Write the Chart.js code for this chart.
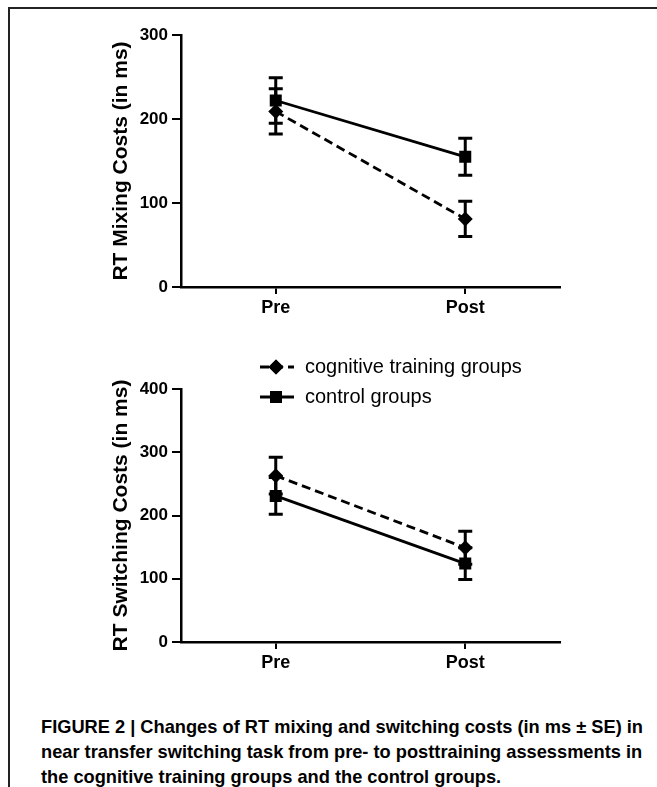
<!DOCTYPE html>
<html>
<head>
<meta charset="utf-8">
<script src="https://cdn.jsdelivr.net/npm/chart.js@4/dist/chart.umd.min.js"></script>
<style>
  html, body { margin: 0; padding: 0; background: #fff; }
  body { width: 657px; height: 787px; position: relative; overflow: hidden; }
  #frameTop { position: absolute; left: 8px; top: 7px; width: 649px; height: 2px; background: #222; }
  #frameLeft { position: absolute; left: 8px; top: 7px; width: 2px; height: 780px; background: #222; }
  canvas { position: absolute; left: 0; }
  #c1 { top: 0; }
  #c2 { top: 330px; }
  .cap { position: absolute; left: 41px; white-space: nowrap; font-family: "Liberation Sans Narrow", "Liberation Sans", Arial, sans-serif; font-weight: bold; font-size: 18.5px; line-height: 20px; color: #000; transform-origin: 0 50%; }
</style>
</head>
<body>
<div id="frameTop"></div>
<div id="frameLeft"></div>
<canvas id="c1" width="657" height="330"></canvas>
<canvas id="c2" width="657" height="355"></canvas>
<div class="cap" id="cap1" style="top:717px">FIGURE 2 | Changes of RT mixing and switching costs (in ms ± SE) in</div>
<div class="cap" id="cap2" style="top:742px">near transfer switching task from pre- to posttraining assessments in</div>
<div class="cap" id="cap3" style="top:767px">the cognitive training groups and the control groups.</div>
<script>
// ---- data ----
const categories = ['Pre', 'Post'];
const seriesNames = ['cognitive training groups', 'control groups'];

const mixingCognitive = [209, 81];
const mixingCognitiveSE = [27, 21];
const mixingControl = [222, 155];
const mixingControlSE = [27, 22];

const switchingCognitive = [263, 149];
const switchingCognitiveSE = [29, 26];
const switchingControl = [231, 124];
const switchingControlSE = [29, 25];

const mixingTicks = [0, 100, 200, 300];
const switchingTicks = [0, 100, 200, 300, 400];

const mixingTitle = 'RT Mixing Costs (in ms)';
const switchingTitle = 'RT Switching Costs (in ms)';

// ---- styling ----
const FONT = '"Liberation Sans", Arial, sans-serif';
const BLACK = '#000';

const errorBarPlugin = {
  id: 'errorBars',
  afterDatasetsDraw(chart) {
    const ctx = chart.ctx;
    const yScale = chart.scales.y;
    ctx.save();
    ctx.strokeStyle = BLACK;
    ctx.lineWidth = 3;
    ctx.lineCap = 'butt';
    chart.data.datasets.forEach((ds, i) => {
      const meta = chart.getDatasetMeta(i);
      meta.data.forEach((pt, j) => {
        const v = ds.data[j], se = ds.se[j];
        const x = pt.x;
        const yTop = yScale.getPixelForValue(v + se);
        const yBot = yScale.getPixelForValue(v - se);
        ctx.beginPath();
        ctx.moveTo(x, yTop); ctx.lineTo(x, yBot);
        ctx.moveTo(x - 7, yTop); ctx.lineTo(x + 7, yTop);
        ctx.moveTo(x - 7, yBot); ctx.lineTo(x + 7, yBot);
        ctx.stroke();
      });
    });
    ctx.restore();
  }
};

const legendPlugin = {
  id: 'customLegend',
  afterDraw(chart) {
    const ctx = chart.ctx;
    const rows = [37, 67];
    ctx.save();
    chart.data.datasets.forEach((ds, i) => {
      const y = rows[i];
      ctx.strokeStyle = BLACK;
      ctx.lineWidth = 2.8;
      ctx.setLineDash(ds.borderDash || []);
      ctx.beginPath();
      ctx.moveTo(260, y); ctx.lineTo(294, y);
      ctx.stroke();
      ctx.setLineDash([]);
      Chart.helpers.drawPoint(ctx, {pointStyle: ds.pointStyle, radius: ds.pointRadius, borderWidth: 0}, 276, y);
      ctx.fillStyle = BLACK;
      ctx.fill();
      ctx.font = '20px ' + FONT;
      ctx.textBaseline = 'middle';
      ctx.textAlign = 'left';
      ctx.fillText(ds.label, 305, y);
    });
    ctx.restore();
  }
};

function makeDatasets(cog, cogSE, ctrl, ctrlSE) {
  return [
    {
      label: seriesNames[0], data: cog, se: cogSE,
      borderColor: BLACK, backgroundColor: BLACK, borderWidth: 2.8,
      borderDash: [9, 5], pointStyle: 'rectRot', pointRadius: 7.5,
      pointBorderWidth: 0, pointBackgroundColor: BLACK, tension: 0
    },
    {
      label: seriesNames[1], data: ctrl, se: ctrlSE,
      borderColor: BLACK, backgroundColor: BLACK, borderWidth: 2.8,
      pointStyle: 'rect', pointRadius: 8.5,
      pointBorderWidth: 0, pointBackgroundColor: BLACK, tension: 0
    }
  ];
}

function makeOptions(tickVals, title, padTop, axisHeight) {
  return {
    responsive: false,
    animation: false,
    devicePixelRatio: 1,
    layout: { padding: { left: 100, top: padTop, right: 97, bottom: 0 } },
    plugins: { legend: { display: false }, tooltip: { enabled: false } },
    scales: {
      x: {
        type: 'category',
        offset: true,
        grid: { offset: false, drawOnChartArea: false, drawTicks: true, tickLength: 7, color: BLACK, lineWidth: 2 },
        border: { display: true, color: BLACK, width: 2.5 },
        ticks: { color: BLACK, padding: 3, font: { family: FONT, size: 18, weight: 'bold' } },
        afterFit(scale) { scale.height = axisHeight; }
      },
      y: {
        min: tickVals[0],
        max: tickVals[tickVals.length - 1],
        afterBuildTicks(scale) { scale.ticks = tickVals.map(v => ({ value: v })); },
        grid: { drawOnChartArea: false, drawTicks: true, tickLength: 9, color: BLACK, lineWidth: 2 },
        border: { display: true, color: BLACK, width: 2.5 },
        ticks: { color: BLACK, padding: 4, font: { family: FONT, size: 17, weight: 'bold' } },
        title: { display: true, text: title, color: BLACK, padding: { top: 9, bottom: 0 }, font: { family: FONT, size: 21, weight: 'bold' } },
        afterFit(scale) { scale.width = 81; }
      }
    }
  };
}

new Chart(document.getElementById('c1'), {
  type: 'line',
  data: { labels: categories, datasets: makeDatasets(mixingCognitive, mixingCognitiveSE, mixingControl, mixingControlSE) },
  options: makeOptions(mixingTicks, mixingTitle, 35, 43),
  plugins: [errorBarPlugin]
});

new Chart(document.getElementById('c2'), {
  type: 'line',
  data: { labels: categories, datasets: makeDatasets(switchingCognitive, switchingCognitiveSE, switchingControl, switchingControlSE) },
  options: makeOptions(switchingTicks, switchingTitle, 59, 43),
  plugins: [errorBarPlugin, legendPlugin]
});

// fit caption width to the reference line width
(function () {
  const c1 = document.getElementById('cap1');
  const w = c1.getBoundingClientRect().width;
  const s = 602 / w;
  ['cap1', 'cap2', 'cap3'].forEach(id => {
    document.getElementById(id).style.transform = 'scaleX(' + s + ')';
  });
})();
</script>
</body>
</html>
